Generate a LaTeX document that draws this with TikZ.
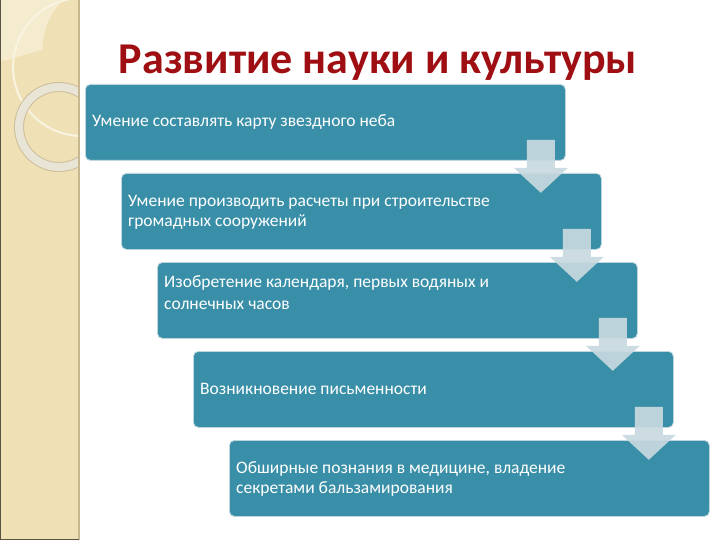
\documentclass[tikz,border=0pt]{standalone}
\usepackage{fontspec}
\setmainfont{Carlito}
\usetikzlibrary{calc}
\definecolor{panel}{RGB}{239,225,181}
\definecolor{panelEdge}{RGB}{200,184,146}
\definecolor{panelLight}{RGB}{245,236,208}
\definecolor{ringC}{RGB}{232,228,214}
\definecolor{ringEdge}{RGB}{205,190,155}
\definecolor{boxC}{RGB}{58,143,168}
\definecolor{boxEdge}{RGB}{190,215,222}
\definecolor{arrowC}{RGB}{201,217,224}
\definecolor{titleC}{RGB}{158,14,18}
\tikzset{
  stepbox/.style={draw=boxEdge, line width=0.8pt, fill=boxC, rounded corners=5pt,
    minimum width=480pt, minimum height=76pt, anchor=north west, inner sep=0pt},
  boxtext/.style={text=white, align=left, anchor=west, inner sep=0pt,
    font=\fontsize{17.5}{20}\selectfont},
  blockarrow/.style={fill=arrowC, draw=none, fill opacity=0.92},
}
\begin{document}
\begin{tikzpicture}[x=1pt,y=-1pt]
\useasboundingbox (0,0) rectangle (720,540);
\fill[white] (0,0) rectangle (720,540);
% left panel
\begin{scope}
\clip (0,0) rectangle (79,540);
\fill[panel] (0,0) rectangle (79,540);
\fill[panelLight] (0,0) -- (63,0) arc[start angle=-135, end angle=-180, radius=70] -- (0,62) -- cycle;
\draw[white!60!panel, line width=2pt] (82,67) circle[radius=69];
\draw[ringEdge, line width=10pt] (59,127) circle[radius=40];
\draw[ringC, line width=8pt] (59,127) circle[radius=40];
\end{scope}
\draw[panelEdge, line width=2pt] (79,0) -- (79,540);
\draw[black!55!panelEdge, line width=1pt] (0.5,0) -- (0.5,540);
\draw[black!55!panelEdge, line width=1pt] (0,539.5) -- (79,539.5);
% title
\node[text=titleC, font=\fontsize{44}{50}\selectfont\bfseries] (title) at (378,63) {Развитие науки и культуры};
% boxes
\node[stepbox] (b1) at (85,84) {};
\node[stepbox] (b2) at (121,173) {};
\node[stepbox] (b3) at (157,262) {};
\node[stepbox] (b4) at (193,351) {};
\node[stepbox] (b5) at (229,440) {};
\node[boxtext] (t1) at ([xshift=7pt]b1.west) {Умение составлять карту звездного неба};
\node[boxtext] (t2) at ([xshift=7pt,yshift=-1pt]b2.west) {Умение производить расчеты при строительстве\\громадных сооружений};
\node[boxtext, font=\fontsize{17.5}{22}\selectfont] (t3) at ([xshift=7pt,yshift=8pt]b3.west) {Изобретение календаря, первых водяных и\\солнечных часов};
\node[boxtext] (t4) at ([xshift=7pt]b4.west) {Возникновение письменности};
\node[boxtext] (t5) at ([xshift=7pt,yshift=-1pt]b5.west) {Обширные познания в медицине, владение\\секретами бальзамирования};
% arrows
\foreach \a/\b in {b1/b2,b2/b3,b3/b4,b4/b5}{
  \coordinate (s) at ($(\a.south east)+(-25,0)$);
  \coordinate (tip) at ($(s)+(0,32)$);
  \fill[blockarrow] ($(s)+(-14,-21)$) -- ($(s)+(14,-21)$) -- ($(s)+(14,7)$) -- ($(s)+(27,7)$)
    -- (tip) -- ($(s)+(-27,7)$) -- ($(s)+(-14,7)$) -- cycle;
}
\end{tikzpicture}
\end{document}
